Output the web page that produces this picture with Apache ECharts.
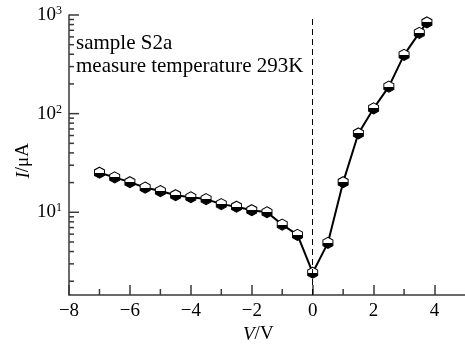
<!DOCTYPE html>
<html>
<head>
<meta charset="utf-8">
<script src="https://cdn.jsdelivr.net/npm/echarts@6/dist/echarts.min.js"></script>
<style>
  html, body { margin: 0; padding: 0; background: #fff; }
  #chart { width: 465px; height: 348px; }
</style>
</head>
<body>
<div id="chart"></div>
<script>
// voltage (V) and current (uA)
var voltage = [-7, -6.5, -6, -5.5, -5, -4.5, -4, -3.5, -3, -2.5, -2, -1.5, -1, -0.5, 0,
  0.5, 1, 1.5, 2, 2.5, 3, 3.5, 3.75]
var current = [25.2, 22.6, 20.2, 17.8, 16.4, 14.9, 14.2, 13.6, 12.1, 11.4, 10.5, 10.0, 7.5, 5.9, 2.44,
  4.9, 20.2, 63, 113, 188, 394, 659, 841]
var xMajor = [-8, -6, -4, -2, 0, 2, 4]
var xMinor = [-7, -5, -3, -1, 1, 3]
var yMajor = [10, 100, 1000]
var yMinor = [2, 3, 4, 5, 6, 7, 8, 9, 20, 30, 40, 50, 60, 70, 80, 90, 200, 300, 400, 500, 600, 700, 800, 900]
var notes = ['sample S2a', 'measure temperature 293K']

var X_MIN = -8, X_MAX = 5
var Y_MIN = 1.45, Y_MAX = 1000
var FONT = '"Liberation Serif", "DejaVu Serif", serif'
var AXIS = '#3a3a3a'

var chart = echarts.init(document.getElementById('chart'))

// hexagon marker, top half white, bottom half black
var hexFill = {
  type: 'linear', x: 0, y: 0, x2: 0, y2: 1,
  colorStops: [
    {offset: 0, color: '#fff'}, {offset: 0.5, color: '#fff'},
    {offset: 0.5, color: '#000'}, {offset: 1, color: '#000'}
  ]
}

var seriesData = voltage.map(function (v, i) { return [v, current[i]] })

// tick marks as thin rect symbols, placed through the axes, pointing into the plot
function yTicks(values, len) {
  return {
    type: 'scatter', silent: true, clip: false, z: 10,
    data: values.map(function (v) { return [X_MIN, v] }),
    symbol: 'rect',
    symbolSize: [len, 1.5],
    symbolOffset: [len / 2, 0],
    itemStyle: {color: AXIS, opacity: 1}
  }
}
function xTicks(values, len) {
  return {
    type: 'scatter', silent: true, clip: false, z: 10,
    data: values.map(function (v) { return [v, Y_MIN] }),
    symbol: 'rect',
    symbolSize: [1.5, len],
    symbolOffset: [0, -len / 2],
    itemStyle: {color: AXIS, opacity: 1}
  }
}

chart.setOption({
  animation: false,
  grid: {left: 69, right: 0, top: 15, bottom: 53},
  xAxis: {
    type: 'value', min: X_MIN, max: X_MAX,
    axisLine: {onZero: false, lineStyle: {color: AXIS, width: 1.5}},
    axisTick: {inside: true, length: 10, customValues: xMajor, lineStyle: {color: AXIS, width: 1.5}},
    axisLabel: {
      customValues: xMajor, margin: 7, color: '#000', fontFamily: FONT, fontSize: 19,
      formatter: function (v) { return String(v).replace('-', '\u2212') }
    },
    splitLine: {show: false}
  },
  yAxis: {
    type: 'log', min: Y_MIN, max: Y_MAX,
    axisLine: {show: true, onZero: false, lineStyle: {color: AXIS, width: 1.5}},
    axisTick: {show: false},
    axisLabel: {
      customValues: yMajor, margin: 7, fontFamily: FONT, color: '#000',
      formatter: function (v) {
        return '{b|10}{s|' + Math.round(Math.log10(v)) + '}'
      },
      rich: {
        b: {fontFamily: FONT, fontSize: 19, color: '#000'},
        s: {fontFamily: FONT, fontSize: 12, color: '#000', verticalAlign: 'top', padding: [0, 0, 8, 0]}
      }
    },
    splitLine: {show: false}
  },
  graphic: [
    {type: 'text', left: 76, top: 33, style: {text: notes[0], font: '21px ' + FONT, fill: '#000'}},
    {type: 'text', left: 76, top: 56, style: {text: notes[1], font: '21px ' + FONT, fill: '#000'}},
    {
      type: 'text', left: 14, top: 143, rotation: Math.PI / 2,
      style: {
        text: '{i|I}/\u03bcA',
        rich: {i: {fontFamily: FONT, fontSize: 19, fontStyle: 'italic', fill: '#000'}},
        font: '19px ' + FONT, fill: '#000'
      }
    },
    {
      type: 'text', left: 243, top: 325,
      style: {
        text: '{i|V}/V',
        rich: {i: {fontFamily: FONT, fontSize: 19, fontStyle: 'italic', fill: '#000'}},
        font: '19px ' + FONT, fill: '#000'
      }
    }
  ],
  series: [
    yTicks(yMajor, 10),
    yTicks(yMinor, 5),
    xTicks(xMinor, 6),
    {
      type: 'line',
      data: seriesData,
      symbol: 'path://M0,-1 L0.866,-0.5 L0.866,0.5 L0,1 L-0.866,0.5 L-0.866,-0.5 Z',
      symbolSize: [10, 11],
      lineStyle: {color: '#000', width: 2},
      itemStyle: {color: hexFill, borderColor: '#000', borderWidth: 1},
      z: 3,
      markLine: {
        silent: true,
        symbol: 'none',
        label: {show: false},
        lineStyle: {color: '#000', width: 1, type: [6, 4]},
        data: [{xAxis: 0}]
      }
    }
  ]
})
</script>
</body>
</html>
